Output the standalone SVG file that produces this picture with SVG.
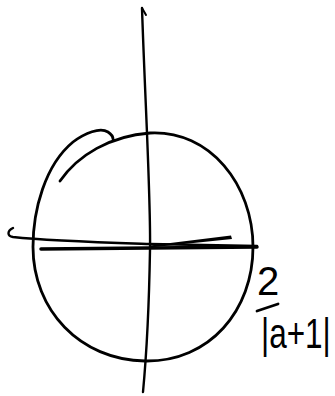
<svg xmlns="http://www.w3.org/2000/svg" width="335" height="396" viewBox="0 0 335 396">
<style>
.s{fill:none;stroke:#000;stroke-linecap:round;stroke-linejoin:round}
.t{font-family:"Liberation Sans",Arial,sans-serif;fill:#000}
</style>
<rect width="335" height="396" fill="#fff"/>
<g id="circle">
<path class="s" stroke-width="2.8" d="M60,181 C78,155 110,136 150,133 C210,130 253,185 253,247 C253,310 210,362 145,361 C80,360 33,310 33,247 C33,210 45,165 73,142 C85,133 100,127 108,132 C111,134 113,137 113,139"/>
</g>
<g id="axes">
<path class="s" stroke-width="2.4" d="M142,8 C145,100 151,200 150,250 C149,310 146,360 143,392"/>
<path class="s" stroke-width="2" d="M142,8 L146,15"/>
<path class="s" stroke-width="2.4" d="M13,228 C7,231 7,236 13,237 C50,241 120,243 150,244 L257,246"/>
<path class="s" stroke-width="3.5" d="M41,249 L257,247"/>
<polygon points="150,245.5 231,235.5 232,239 150,247.5" fill="#000"/>
</g>
<g id="label">
<text class="t" x="268" y="295" font-size="40" text-anchor="middle">2</text>
<path class="s" stroke-width="2.8" d="M257,311 L278,304"/>
<text class="t" transform="translate(261,348) scale(0.75,1)" font-size="42">|a+1|</text>
</g>
</svg>
